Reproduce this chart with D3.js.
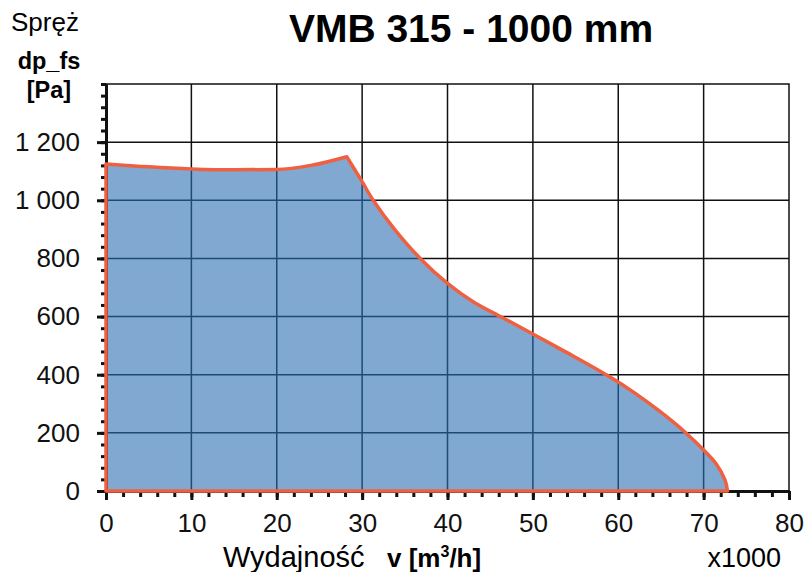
<!DOCTYPE html>
<html>
<head>
<meta charset="utf-8">
<script src="https://cdn.jsdelivr.net/npm/d3@7"></script>
<style>
  body { margin: 0; background: #fff; }
  svg { display: block; font-family: "Liberation Sans", Arial, sans-serif; }
</style>
</head>
<body>
<svg id="chart" width="806" height="572"></svg>
<script>
// fan curve, airflow in x1000 m3/h, pressure in Pa
const flow = [0, 5, 10, 15, 20, 24, 28.2, 30, 31.3, 33.8, 36.8, 40, 43, 46.4, 50, 54, 58.7, 62, 65, 67.8, 70, 71.5, 72.5, 72.8];
const pressure = [1125, 1115, 1108, 1105, 1106, 1120, 1150, 1064, 1000, 900, 800, 714, 651, 597, 540, 476, 398, 336, 271, 203, 141, 92, 38, 0];
const peakIndex = 6;

const xTicks = [0, 10, 20, 30, 40, 50, 60, 70, 80];
const yTicks = [0, 200, 400, 600, 800, 1000, 1200];

const width = 806, height = 572;
const margin = { top: 84, right: 17, bottom: 81, left: 106 };

const svg = d3.select("#chart");

const x = d3.scaleLinear().domain([0, 80]).range([margin.left, width - margin.right]);
const y = d3.scaleLinear().domain([0, 1400]).range([height - margin.bottom, margin.top]);

const pts = flow.map((f, i) => [f, pressure[i]]);
const lineLeft = d3.line().x(d => x(d[0])).y(d => y(d[1])).curve(d3.curveMonotoneX);
const lineRight = d3.line().x(d => x(d[0])).y(d => y(d[1])).curve(d3.curveCatmullRom.alpha(0.5));

// two smooth pieces so the peak stays sharp
const left = lineLeft(pts.slice(0, peakIndex + 1));
const right = lineRight(pts.slice(peakIndex)).replace(/^M[^CLZ]*/, "");
const areaPath = "M" + x(0) + "," + y(0) + "L" + left.slice(1) + right +
    "L" + x(flow[flow.length - 1]) + "," + y(0) + "Z";

// frame
svg.append("rect")
    .attr("x", x(0)).attr("y", y(1400))
    .attr("width", x(80) - x(0)).attr("height", y(0) - y(1400))
    .attr("fill", "#fff").attr("stroke", "#111").attr("stroke-width", 1.5);

function drawGrid(g, color) {
    g.selectAll(".gx").data(xTicks.slice(1, -1)).enter().append("line")
        .attr("x1", d => x(d)).attr("x2", d => x(d))
        .attr("y1", y(0)).attr("y2", y(1400))
        .attr("stroke", color).attr("stroke-width", 1.5);
    g.selectAll(".gy").data(yTicks.slice(1)).enter().append("line")
        .attr("x1", x(0)).attr("x2", x(80))
        .attr("y1", d => y(d)).attr("y2", d => y(d))
        .attr("stroke", color).attr("stroke-width", 1.5);
}
drawGrid(svg.append("g"), "#111");

svg.append("clipPath").attr("id", "areaClip")
    .append("path").attr("d", areaPath);

svg.append("path")
    .attr("d", areaPath)
    .attr("fill", "#80a8d1");

drawGrid(svg.append("g").attr("clip-path", "url(#areaClip)"), "#1d4a76");

// axes
const fmt = d3.formatLocale({ decimal: ",", thousands: " ", grouping: [3], currency: ["", ""] }).format(",d");

const yMinor = svg.append("g")
    .attr("transform", `translate(${x(0)},0)`)
    .call(d3.axisLeft(y).tickValues(d3.range(0, 1401, 40)).tickSize(5).tickSizeOuter(0).tickFormat(""));
const yMajor = svg.append("g")
    .attr("transform", `translate(${x(0)},0)`)
    .call(d3.axisLeft(y).tickValues(yTicks).tickSize(9).tickSizeOuter(0).tickPadding(17).tickFormat(fmt));

const xMinor = svg.append("g")
    .attr("transform", `translate(0,${y(0)})`)
    .call(d3.axisBottom(x).tickValues(d3.range(0, 81, 2)).tickSize(6).tickSizeOuter(0).tickFormat(""));
const xMajor = svg.append("g")
    .attr("transform", `translate(0,${y(0)})`)
    .call(d3.axisBottom(x).tickValues(xTicks).tickSize(9).tickSizeOuter(0).tickPadding(14));

[yMinor, yMajor, xMinor, xMajor].forEach(g => {
    g.selectAll(".domain").attr("stroke", "#111").attr("stroke-width", 3);
    g.selectAll(".tick line").attr("stroke", "#111").attr("stroke-width", 3);
    g.selectAll(".tick text").attr("fill", "#111").style("font-size", "26px");
});

// curve outline
svg.append("path")
    .attr("d", areaPath)
    .attr("fill", "none")
    .attr("stroke", "#ef6040")
    .attr("stroke-width", 3.5)
    .attr("stroke-linejoin", "round");

// texts
svg.append("text").attr("x", 471).attr("y", 42)
    .attr("text-anchor", "middle")
    .style("font-size", "39px").style("font-weight", "bold")
    .text("VMB 315 - 1000 mm");

svg.append("text").attr("x", 11).attr("y", 31)
    .style("font-size", "26px")
    .text("Spręż");
svg.append("text").attr("x", 49).attr("y", 69)
    .attr("text-anchor", "middle")
    .style("font-size", "23.5px").style("font-weight", "bold")
    .text("dp_fs");
svg.append("text").attr("x", 49).attr("y", 98)
    .attr("text-anchor", "middle")
    .style("font-size", "23.5px").style("font-weight", "bold")
    .text("[Pa]");

svg.append("text").attr("x", 223).attr("y", 567)
    .style("font-size", "29px")
    .text("Wydajność");
const vl = svg.append("text").attr("x", 387).attr("y", 567)
    .style("font-size", "26px").style("font-weight", "bold");
vl.append("tspan").text("v [m");
vl.append("tspan").style("font-size", "16px").attr("dy", -10).text("3");
vl.append("tspan").attr("dy", 10).text("/h]");

svg.append("text").attr("x", 781).attr("y", 567)
    .attr("text-anchor", "end")
    .style("font-size", "27px")
    .text("x1000");
</script>
</body>
</html>
